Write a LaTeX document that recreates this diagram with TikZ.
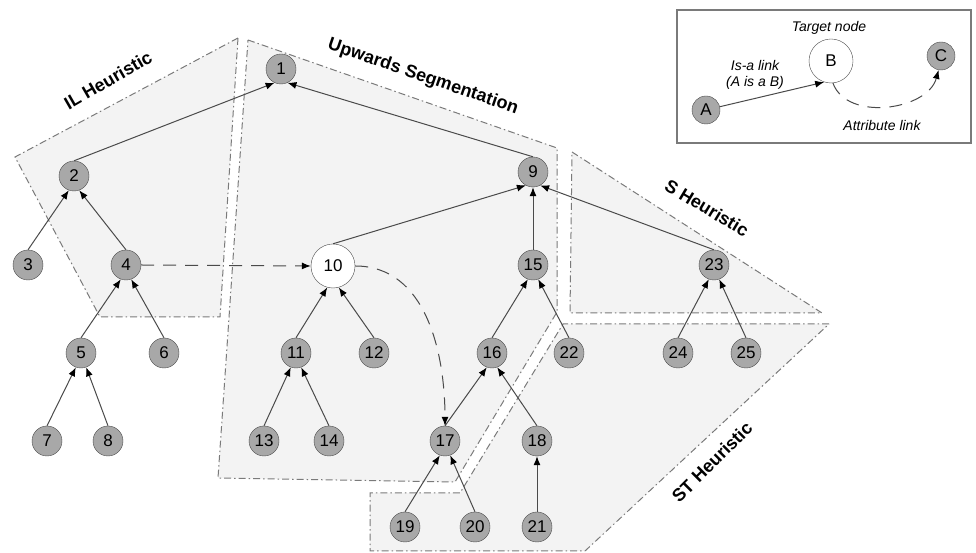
\documentclass[tikz,border=0pt]{standalone}
\usepackage{fontspec}
\setmainfont{Liberation Sans}
\usetikzlibrary{arrows.meta}

\definecolor{conceptgray}{HTML}{A8A8A8}
\definecolor{linegray}{HTML}{4A4A4A}
\definecolor{regionfill}{HTML}{F3F3F3}
\definecolor{regionline}{HTML}{7A7A7A}

\begin{document}
\begin{tikzpicture}[x=1pt, y=1pt,
	concept/.style={draw=linegray, circle, fill=conceptgray, minimum size=30pt, inner sep=0pt, font=\fontsize{17}{17}\selectfont},
	target/.style={concept, fill=white, minimum size=44pt},
	isa/.style={-{Latex[length=9pt, width=7pt, color=black]}, draw=linegray, line width=1pt},
	attr/.style={isa, dash pattern=on 13pt off 9pt},
	region/.style={fill=regionfill, draw=regionline, line width=1pt, dash pattern=on 7pt off 3pt on 1.5pt off 3pt},
	regionlabel/.style={font=\bfseries\fontsize{18}{18}\selectfont}]
	\useasboundingbox (0,0) rectangle (976,553);

	% heuristic regions
	\path[region] (238,515) -- (15,396) -- (100,236) -- (220,236) -- cycle;
	\path[region] (248,513) -- (557,405) -- (557,241) -- (455,71) -- (218,75) -- cycle;
	\path[region] (572,401) -- (822,240) -- (570,240) -- cycle;
	\path[region] (829,229) -- (563,229) -- (460,60) -- (370,60) -- (370,2) -- (585,2) -- cycle;
	\node[regionlabel, rotate=30] at (108,473) {IL Heuristic};
	\node[regionlabel, rotate=-19] at (423,476) {Upwards Segmentation};
	\node[regionlabel, rotate=-31] at (707,345) {S Heuristic};
	\node[regionlabel, rotate=45] at (712,91) {ST Heuristic};

	% concepts
	\node[concept] (1) at (281,484) {1};
	\node[concept] (2) at (74,377) {2};
	\node[concept] (3) at (28,288) {3};
	\node[concept] (4) at (126,288) {4};
	\node[concept] (5) at (81,200) {5};
	\node[concept] (6) at (164,200) {6};
	\node[concept] (7) at (47,112) {7};
	\node[concept] (8) at (108,112) {8};
	\node[concept] (9) at (533,381) {9};
	\node[target] (10) at (333,287) {10};
	\node[concept] (11) at (296,200) {11};
	\node[concept] (12) at (374,200) {12};
	\node[concept] (13) at (264,112) {13};
	\node[concept] (14) at (329,112) {14};
	\node[concept] (15) at (533,288) {15};
	\node[concept] (16) at (492,200) {16};
	\node[concept] (17) at (445,112) {17};
	\node[concept] (18) at (537,112) {18};
	\node[concept] (19) at (405,26) {19};
	\node[concept] (20) at (475,26) {20};
	\node[concept] (21) at (537,26) {21};
	\node[concept] (22) at (569,200) {22};
	\node[concept] (23) at (714,288) {23};
	\node[concept] (24) at (678,200) {24};
	\node[concept] (25) at (746,200) {25};

	% is-a links
	\draw[isa] (2.north) -- (1.-115);
	\draw[isa] (9.north) -- (1.-65);
	\draw[isa] (3.north) -- (2.-110);
	\draw[isa] (4.north) -- (2.-70);
	\draw[isa] (5.north) -- (4.-110);
	\draw[isa] (6.north) -- (4.-70);
	\draw[isa] (7.north) -- (5.-110);
	\draw[isa] (8.north) -- (5.-70);
	\draw[isa] (10.north) -- (9.-118);
	\draw[isa] (15.north) -- (9.south);
	\draw[isa] (23.north) -- (9.-62);
	\draw[isa] (11.north) -- (10.-105);
	\draw[isa] (12.north) -- (10.-75);
	\draw[isa] (13.north) -- (11.-110);
	\draw[isa] (14.north) -- (11.-70);
	\draw[isa] (16.north) -- (15.-110);
	\draw[isa] (22.north) -- (15.-70);
	\draw[isa] (17.north) -- (16.-110);
	\draw[isa] (18.north) -- (16.-70);
	\draw[isa] (19.north) -- (17.-110);
	\draw[isa] (20.north) -- (17.-70);
	\draw[isa] (21.north) -- (18.south);
	\draw[isa] (24.north) -- (23.-110);
	\draw[isa] (25.north) -- (23.-70);

	% attribute links
	\draw[attr] (4.east) -- (10.west);
	\draw[attr] (10.east) to[out=0, in=90] (17.north);

	% legend
	\draw[draw=regionline, line width=1.2pt] (677,410) rectangle (971,543);
	\node[concept, minimum size=28pt] (A) at (706,443) {A};
	\node[target] (B) at (831,492) {B};
	\node[concept, minimum size=28pt] (C) at (941,497) {C};
	\node[font=\itshape\fontsize{14}{14}\selectfont] at (829,525) {Target node};
	\node[font=\itshape\fontsize{14}{16}\selectfont, align=center] at (755,478) {Is-a link\\(A is a B)};
	\node[font=\itshape\fontsize{14}{14}\selectfont] at (882,427) {Attribute link};
	\draw[isa] (A) -- (B.252);
	\draw[attr] (B.-85) to[out=-70, in=-105] (C.-100);
\end{tikzpicture}
\end{document}
